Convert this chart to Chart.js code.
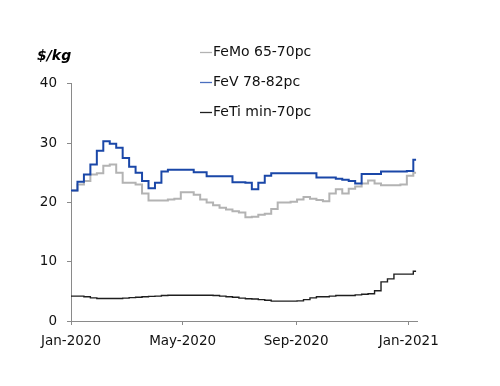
<!DOCTYPE html>
<html>
<head>
<meta charset="utf-8">
<script src="https://cdn.jsdelivr.net/npm/chart.js@4.4.1/dist/chart.umd.min.js"></script>
<style>
  html, body { margin: 0; padding: 0; background: #ffffff; }
  #wrap { width: 500px; height: 386px; }
</style>
</head>
<body>
<div id="wrap"><canvas id="c" width="500" height="386"></canvas></div>
<script>
const weekDates = [
  '2020-01-01','2020-01-08','2020-01-15','2020-01-22','2020-01-29',
  '2020-02-05','2020-02-12','2020-02-19','2020-02-26',
  '2020-03-04','2020-03-11','2020-03-18','2020-03-25',
  '2020-04-01','2020-04-08','2020-04-15','2020-04-22','2020-04-29',
  '2020-05-06','2020-05-13','2020-05-20','2020-05-27',
  '2020-06-03','2020-06-10','2020-06-17','2020-06-24',
  '2020-07-01','2020-07-08','2020-07-15','2020-07-22','2020-07-29',
  '2020-08-05','2020-08-12','2020-08-19','2020-08-26',
  '2020-09-02','2020-09-09','2020-09-16','2020-09-23','2020-09-30',
  '2020-10-07','2020-10-14','2020-10-21','2020-10-28',
  '2020-11-04','2020-11-11','2020-11-18','2020-11-25',
  '2020-12-02','2020-12-09','2020-12-16','2020-12-23','2020-12-30',
  '2021-01-06','2021-01-09'
];

const feMo = [22.0, 22.0, 23.0, 23.6, 24.7, 24.9, 26.2, 26.4, 25.0, 23.3,
  23.3, 23.0, 21.5, 20.3, 20.3, 20.3, 20.5, 20.6, 21.7, 21.7,
  21.3, 20.5, 20.0, 19.5, 19.1, 18.8, 18.5, 18.3, 17.5, 17.6,
  17.9, 18.1, 18.9, 20.0, 20.0, 20.1, 20.5, 20.9, 20.6, 20.4,
  20.2, 21.5, 22.2, 21.5, 22.3, 22.7, 23.2, 23.7, 23.2, 22.9,
  22.9, 22.9, 23.0, 24.5, 25.0];

const feV = [22.0, 22.0, 23.5, 24.7, 26.4, 28.7, 30.3, 29.9, 29.2, 27.5,
  26.0, 25.0, 23.6, 22.4, 23.3, 25.2, 25.5, 25.5, 25.5, 25.5,
  25.1, 25.1, 24.4, 24.4, 24.4, 24.4, 23.4, 23.4, 23.3, 22.2,
  23.3, 24.5, 24.9, 24.9, 24.9, 24.9, 24.9, 24.9, 24.9, 24.2,
  24.2, 24.2, 24.0, 23.8, 23.6, 23.2, 24.8, 24.8, 24.8, 25.2,
  25.2, 25.2, 25.2, 25.3, 27.2];

const feTi = [4.2, 4.2, 4.2, 4.1, 3.9, 3.8, 3.8, 3.8, 3.8, 3.85,
  3.95, 4.0, 4.1, 4.15, 4.2, 4.3, 4.35, 4.35, 4.35, 4.35,
  4.35, 4.35, 4.35, 4.3, 4.2, 4.1, 4.0, 3.85, 3.75, 3.7,
  3.6, 3.5, 3.35, 3.35, 3.35, 3.35, 3.4, 3.6, 3.9, 4.1,
  4.1, 4.2, 4.3, 4.3, 4.3, 4.4, 4.5, 4.6, 5.1, 6.6,
  7.1, 7.9, 7.9, 7.9, 8.4];

const seriesLabels = ['FeMo 65-70pc', 'FeV 78-82pc', 'FeTi min-70pc'];
const xTickDates = ['2020-01-01', '2020-05-01', '2020-09-01', '2021-01-01'];
const xTickLabels = ['Jan-2020', 'May-2020', 'Sep-2020', 'Jan-2021'];
const yTicks = [0, 10, 20, 30, 40];
const unitLabel = '$/kg';

// ---- helpers ----
const origin = Date.parse('2020-01-01');
const toDay = d => Math.round((Date.parse(d) - origin) / 86400000);
const xDays = weekDates.map(toDay);
const xTickDays = xTickDates.map(toDay);
const toPoints = vals => vals.map((v, i) => ({ x: xDays[i], y: v }));

const FONT = '"DejaVu Sans", Verdana, sans-serif';
const AXIS_COLOR = '#8a8a8a';

const sideLegend = {
  id: 'sideLegend',
  afterDraw(chart) {
    const ctx = chart.ctx;
    ctx.save();
    ctx.font = '14px ' + FONT;
    ctx.textBaseline = 'middle';
    ctx.textAlign = 'left';
    chart.data.datasets.forEach((ds, i) => {
      const y = 52 + i * 30;
      ctx.strokeStyle = ds.legendColor || ds.borderColor;
      ctx.lineWidth = 1.3;
      ctx.beginPath();
      ctx.moveTo(200, y + 0.5);
      ctx.lineTo(212, y + 0.5);
      ctx.stroke();
      ctx.fillStyle = '#111111';
      ctx.fillText(ds.label, 213, y);
    });
    ctx.restore();
  }
};

new Chart(document.getElementById('c'), {
  type: 'line',
  data: {
    datasets: [
      { label: seriesLabels[0], data: toPoints(feMo), borderColor: '#b3b3b3', borderWidth: 2, order: 1 },
      { label: seriesLabels[1], data: toPoints(feV), borderColor: '#1a47a8', legendColor: '#4a6fbf', borderWidth: 2, order: 0 },
      { label: seriesLabels[2], data: toPoints(feTi), borderColor: '#1e1e1e', borderWidth: 1.4, order: 2 }
    ]
  },
  options: {
    responsive: false,
    animation: false,
    datasets: { line: { stepped: 'after', pointRadius: 0, tension: 0, fill: false } },
    layout: { padding: { left: 37, right: 83, top: 0, bottom: 37 } },
    plugins: {
      legend: { display: false },
      tooltip: { enabled: false },
      title: {
        display: true,
        text: unitLabel,
        align: 'start',
        color: '#000000',
        font: { family: FONT, size: 14, weight: 'bold', style: 'italic', lineHeight: 1.2 },
        padding: { top: 48, bottom: 19 }
      }
    },
    scales: {
      x: {
        type: 'linear',
        min: 0,
        max: 375,
        afterBuildTicks: (scale) => { scale.ticks = xTickDays.map(v => ({ value: v })); },
        afterFit: (scale) => { scale.height = 28; },
        ticks: {
          autoSkip: false,
          maxRotation: 0,
          padding: 8,
          color: '#111111',
          font: { family: FONT, size: 13.5 },
          callback: (v) => { const i = xTickDays.indexOf(v); return i >= 0 ? xTickLabels[i] : ''; }
        },
        grid: { display: true, drawOnChartArea: false, drawTicks: true, tickLength: 4, color: AXIS_COLOR },
        border: { display: true, color: AXIS_COLOR, width: 1 }
      },
      y: {
        min: 0,
        max: 40,
        afterBuildTicks: (scale) => { scale.ticks = yTicks.map(v => ({ value: v })); },
        afterFit: (scale) => { scale.width = 34; },
        ticks: {
          padding: 10,
          color: '#111111',
          font: { family: FONT, size: 13.5 }
        },
        grid: { display: true, drawOnChartArea: false, drawTicks: true, tickLength: 4, color: AXIS_COLOR },
        border: { display: true, color: AXIS_COLOR, width: 1 }
      }
    }
  },
  plugins: [sideLegend]
});
</script>
</body>
</html>
